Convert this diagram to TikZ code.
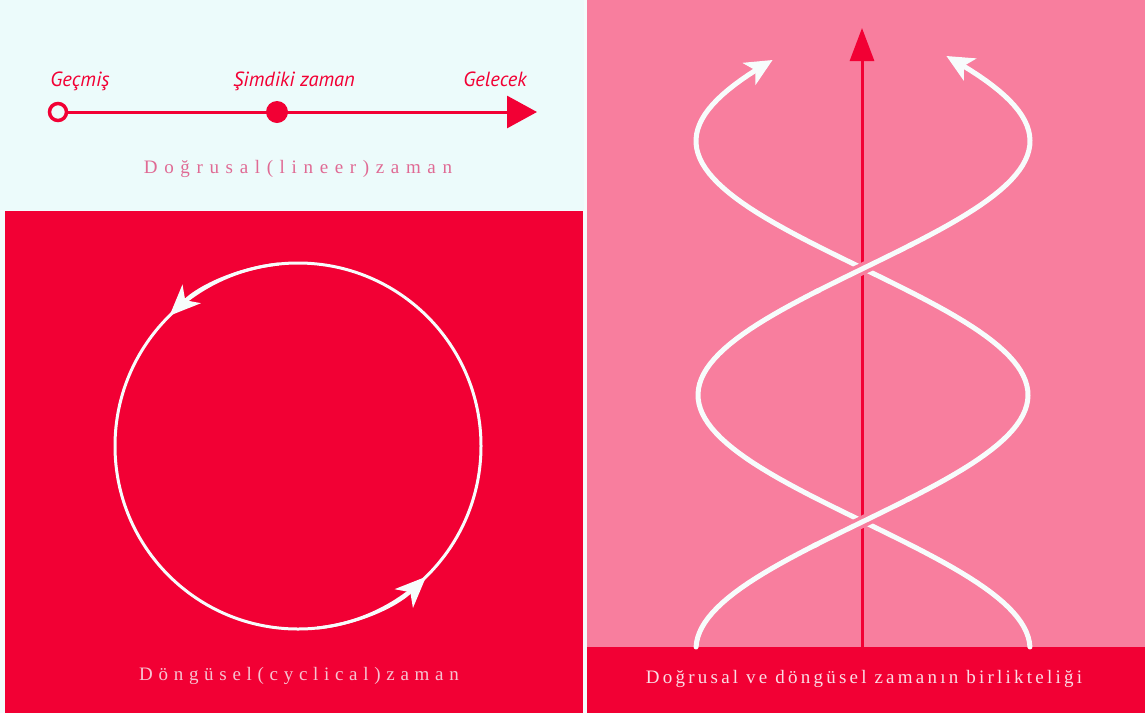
\documentclass[tikz,border=0pt]{standalone}
\usepackage{fontspec}
\setmainfont{Liberation Serif}
\newfontfamily\labfont{PT Sans}
\newfontfamily\capfont[LetterSpace=35]{Liberation Serif}
\newfontfamily\capfontc[LetterSpace=30]{Liberation Serif}
\newfontfamily\capfontb[LetterSpace=17]{Liberation Serif}
\usetikzlibrary{arrows.meta}
\definecolor{cred}{HTML}{F20034}
\definecolor{cpink}{HTML}{F87E9E}
\definecolor{ccyan}{HTML}{ECFBFB}
\definecolor{cbg}{HTML}{F4FCFC}
\definecolor{cwhite}{HTML}{F7FCFC}
\definecolor{capone}{HTML}{E06A94}
\definecolor{captwo}{HTML}{F6C3D1}
\definecolor{capthree}{HTML}{FADCE4}
\tikzset{
  lab/.style={font=\labfont\itshape\fontsize{20.5}{24}\selectfont, text=cred, anchor=base, inner sep=0},
  capa/.style={font=\capfont\fontsize{19}{22}\selectfont, inner sep=0},
  capc/.style={font=\capfontc\fontsize{19}{22}\selectfont, inner sep=0},
  capb/.style={font=\capfontb\fontsize{19}{22}\selectfont, inner sep=0},
  strand/.style={cwhite, line width=5pt, line cap=round},
  halo/.style={cpink, line width=12pt},
  helixtip/.style={-{Stealth[length=27pt,width=25pt,inset=7pt]}},
  cyctip/.style={-{Stealth[length=31pt,width=26pt,inset=9pt]}}
}
\begin{document}
\begin{tikzpicture}[x=1pt,y=-1pt]
\useasboundingbox (0,0) rectangle (1145,713);
% panels
\fill[cbg] (0,0) rectangle (1145,713);
\fill[ccyan] (0,0) rectangle (584,210);
\fill[cred] (5,211) rectangle (583,713);
\fill[cpink] (587,0) rectangle (1145,647);
\fill[cred] (587,647) rectangle (1145,713);

% ---- linear time ----
\node[circle, fill=cred, minimum size=22pt, inner sep=0] (now) at (277,112) {};
\node[circle, draw=cred, line width=3.5pt, fill=ccyan, minimum size=17pt, inner sep=0] (past) at (58,112) {};
\coordinate (fut) at (537,112);
\draw[cred, line width=3pt, -{Triangle[length=30pt,width=32pt]}] (past.east) -- (fut);
\node[lab] (lpast) at (80,86) {Geçmiş};
\node[lab] (lnow) at (294,86) {Şimdiki zaman};
\node[lab] (lfut) at (495,86) {Gelecek};
\node[capa, text=capone] (cap1) at (298,169) {Doğrusal(lineer)zaman};

% ---- cyclical time ----
\node[circle, draw=cwhite, line width=3pt, minimum size=366pt, inner sep=0] (cyc) at (298,446) {};
\draw[cwhite, line width=3pt, cyctip] (cyc.center) ++(264:183) arc[start angle=264, end angle=225.4, radius=183];
\draw[cwhite, line width=3pt, cyctip] (cyc.center) ++(84:183) arc[start angle=84, end angle=45.6, radius=183];
\node[capc, text=captwo] (cap2) at (299,676) {Döngüsel(cyclical)zaman};

% ---- combined ----
\coordinate (axb) at (862,647);
\coordinate (axt) at (862,28);
\draw[cred, line width=3pt, -{Triangle[length=33pt,width=24pt]}] (axb) -- (axt);
% strand A
\draw[strand, helixtip] plot[domain=647:60, samples=120] ({862-166*cos((\x-649)/254*180)},\x);
% strand B
\draw[strand, helixtip] plot[domain=647:56, samples=120] ({864+166*cos((\x-649)/254*180)},\x);
% top crossing: B over
\draw[halo] plot[domain=290:246, samples=20] ({864+166*cos((\x-649)/254*180)},\x);
\draw[cwhite, line width=5pt] plot[domain=292:244, samples=20] ({864+166*cos((\x-649)/254*180)},\x);
% bottom crossing: A over
\draw[halo] plot[domain=544:500, samples=20] ({862-166*cos((\x-649)/254*180)},\x);
\draw[cwhite, line width=5pt] plot[domain=546:498, samples=20] ({862-166*cos((\x-649)/254*180)},\x);
\node[capb, text=capthree] (cap3) at (864,679) {Doğrusal ve döngüsel zamanın birlikteliği};
\end{tikzpicture}
\end{document}
